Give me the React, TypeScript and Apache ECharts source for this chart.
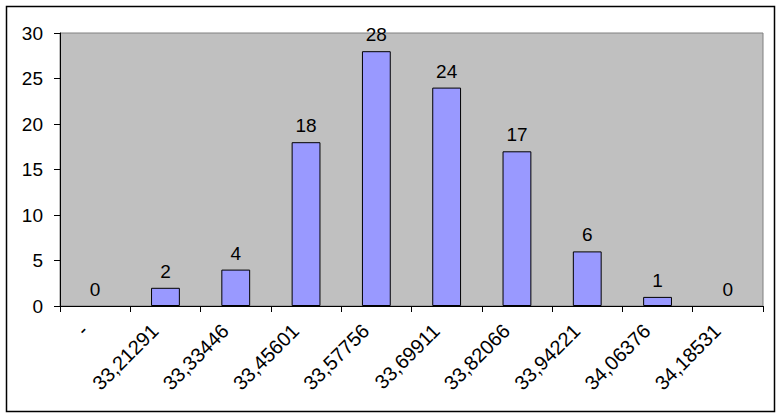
import React, { useEffect, useRef } from "react";
import * as echarts from "echarts";

const categories = ["-", "33,21291", "33,33446", "33,45601", "33,57756", "33,69911", "33,82066", "33,94221", "34,06376", "34,18531"];
const counts = [0, 2, 4, 18, 28, 24, 17, 6, 1, 0];
const yTicks = { min: 0, max: 30, interval: 5 };

const FONT = "Liberation Sans, Arial, sans-serif";

export default function App() {
  const ref = useRef<HTMLDivElement>(null);
  useEffect(() => {
    const chart = echarts.init(ref.current!, null, { renderer: "svg" });
    chart.setOption({
      animation: false,
      backgroundColor: "#ffffff",
      textStyle: { fontFamily: FONT },
      graphic: [
        {
          type: "rect",
          shape: { x: 6.5, y: 6.5, width: 768, height: 405 },
          style: { fill: "none", stroke: "#000", lineWidth: 1.5 },
          silent: true,
        },
      ],
      grid: {
        left: 60,
        top: 33,
        width: 703,
        height: 273,
        show: true,
        backgroundColor: "#C0C0C0",
        borderColor: "#808080",
        borderWidth: 1,
      },
      xAxis: {
        type: "category",
        data: categories,
        boundaryGap: true,
        axisLine: { lineStyle: { color: "#000", width: 1 } },
        axisTick: { show: true, length: 6, alignWithLabel: false, lineStyle: { color: "#000" } },
        axisLabel: {
          rotate: 45,
          color: "#000",
          fontSize: 20,
          lineHeight: 30,
          margin: 32,
          verticalAlign: "bottom",
          interval: 0,
          fontFamily: FONT,
        },
        splitLine: { show: false },
      },
      yAxis: {
        type: "value",
        min: yTicks.min,
        max: yTicks.max,
        interval: yTicks.interval,
        axisLine: { show: true, lineStyle: { color: "#000", width: 1 } },
        axisTick: { show: true, length: 6, lineStyle: { color: "#000" } },
        axisLabel: { color: "#000", fontSize: 19, margin: 17, fontFamily: FONT },
        splitLine: { show: false },
      },
      series: [
        {
          type: "bar",
          data: counts.map((v) => ({
            value: v,
            itemStyle: v === 0 ? { borderWidth: 0 } : undefined,
          })),
          barWidth: "41%",
          itemStyle: { color: "#9999FF", borderColor: "#000", borderWidth: 1 },
          label: {
            show: true,
            position: "top",
            distance: 7,
            color: "#000",
            fontSize: 19,
            fontFamily: FONT,
          },
        },
      ],
    });
    return () => chart.dispose();
  }, []);
  return (
    <div
      ref={ref}
      style={{ position: "fixed", left: 0, top: 0, width: 781, height: 417 }}
    />
  );
}
